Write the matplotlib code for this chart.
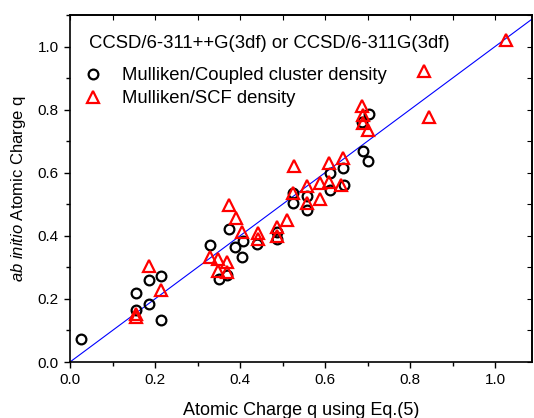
import matplotlib
matplotlib.use("Agg")
import matplotlib.pyplot as plt
from matplotlib.ticker import MultipleLocator, FormatStrFormatter

plt.rcParams['font.family'] = ['Liberation Sans', 'DejaVu Sans']
plt.rcParams['mathtext.fontset'] = 'custom'
plt.rcParams['mathtext.it'] = 'Liberation Sans:italic'
plt.rcParams['mathtext.rm'] = 'Liberation Sans'

# Mulliken / coupled cluster density (circles)
cc_x = [0.026, 0.155, 0.155, 0.186, 0.214, 0.186, 0.214, 0.329, 0.374, 0.389,
        0.404, 0.406, 0.441, 0.486, 0.486, 0.351, 0.369, 0.525, 0.525, 0.558,
        0.558, 0.612, 0.642, 0.645, 0.612, 0.690, 0.702, 0.704, 0.686]
cc_y = [0.072, 0.218, 0.165, 0.260, 0.274, 0.184, 0.133, 0.371, 0.421, 0.366,
        0.334, 0.385, 0.375, 0.389, 0.413, 0.263, 0.276, 0.535, 0.504, 0.526,
        0.482, 0.598, 0.614, 0.561, 0.545, 0.670, 0.638, 0.786, 0.762]

# Mulliken / SCF density (triangles)
scf_x = [0.186, 0.214, 0.155, 0.155, 0.374, 0.390, 0.404, 0.329, 0.349, 0.369,
         0.349, 0.369, 0.442, 0.442, 0.486, 0.486, 0.510, 0.525, 0.527, 0.558,
         0.558, 0.588, 0.588, 0.610, 0.610, 0.637, 0.643, 0.686, 0.689, 0.690,
         0.702, 0.833, 0.845, 1.026]
scf_y = [0.304, 0.228, 0.144, 0.152, 0.498, 0.456, 0.412, 0.334, 0.326, 0.318,
         0.289, 0.286, 0.408, 0.389, 0.428, 0.400, 0.450, 0.535, 0.621, 0.558,
         0.503, 0.567, 0.516, 0.630, 0.572, 0.561, 0.646, 0.810, 0.783, 0.757,
         0.736, 0.924, 0.778, 1.021]

# y = x reference line
line_x = [0.0, 1.1]
line_y = [0.0, 1.1]

W, H = 534, 418
fig = plt.figure(figsize=(W / 100, H / 100), dpi=100)
ax = fig.add_axes([70 / W, (H - 362) / H, (532 - 70) / W, (362 - 15) / H])

ax.plot(line_x, line_y, color='#0000ff', lw=0.8, zorder=1)
ax.plot(cc_x, cc_y, ls='none', marker='o', ms=7, mfc='none', mec='black',
        mew=1.6, label='Mulliken/Coupled cluster density', zorder=2)
ax.plot(scf_x, scf_y, ls='none', marker='^', ms=8, mfc='none', mec='#ff0000',
        mew=1.6, label='Mulliken/SCF density', zorder=3)

ax.set_xlim(0, 1.087)
ax.set_ylim(0, 1.1)
ax.xaxis.set_major_locator(MultipleLocator(0.2))
ax.xaxis.set_minor_locator(MultipleLocator(0.1))
ax.yaxis.set_major_locator(MultipleLocator(0.2))
ax.yaxis.set_minor_locator(MultipleLocator(0.1))
ax.xaxis.set_major_formatter(FormatStrFormatter('%.1f'))
ax.yaxis.set_major_formatter(FormatStrFormatter('%.1f'))

ax.tick_params(which='both', direction='out', top=False, right=False,
               labelsize=11, width=1.0, color='black')
ax.tick_params(which='major', length=4.5)
ax.tick_params(which='minor', length=3)
axt = ax.secondary_xaxis('top')
axt.xaxis.set_major_locator(MultipleLocator(0.1))
axt.tick_params(direction='in', length=3.5, labeltop=False)
axr = ax.secondary_yaxis('right')
axr.yaxis.set_major_locator(MultipleLocator(0.1))
axr.tick_params(direction='in', length=3.5, labelright=False)
for a in (ax, axt, axr):
    for s in a.spines.values():
        s.set_linewidth(1.2)

ax.set_xlabel('Atomic Charge q using Eq.(5)', fontsize=13, labelpad=11)
ax.set_ylabel(r'$\mathit{ab\ initio}$ Atomic Charge q', fontsize=12, labelpad=7)

FS = 13.3
fig.text(89 / W, 1 - 43 / H, 'CCSD/6-311++G(3df) or CCSD/6-311G(3df)',
         fontsize=FS, ha='left', va='center')
fs_px = FS * 100 / 72
hl = 1.0
leg = fig.legend(handles=ax.get_lines()[1:], loc='upper left',
                 bbox_to_anchor=((93 - hl * fs_px / 2) / W, 1 - 67 / H),
                 bbox_transform=fig.transFigure, frameon=False, fontsize=FS,
                 handlelength=hl, handletextpad=(29 - hl * fs_px / 2) / fs_px,
                 labelspacing=0.35, borderpad=0, borderaxespad=0)

fig.savefig('out.png', dpi=100)
